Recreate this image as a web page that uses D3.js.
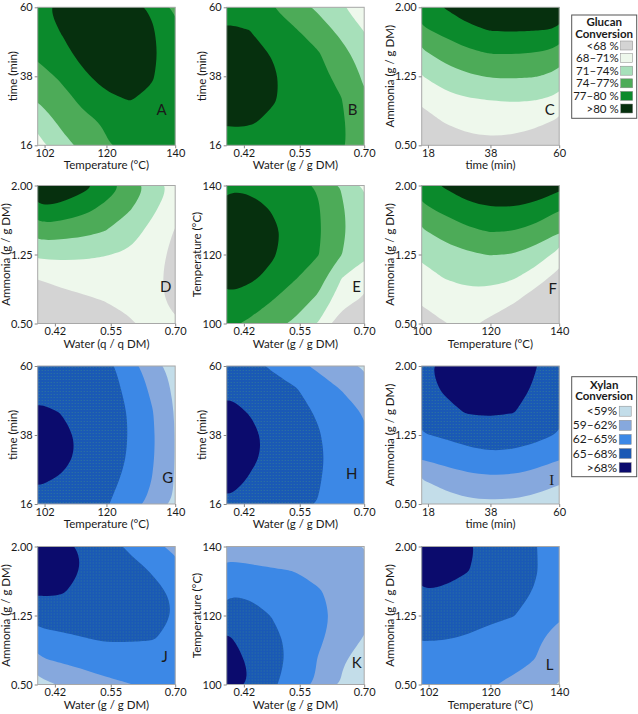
<!DOCTYPE html>
<html>
<head>
<meta charset="utf-8">
<script src="https://cdn.jsdelivr.net/npm/d3@7"></script>
<style>
  body { margin: 0; background: #fff; }
  svg text { font-family: Lato, "Open Sans", sans-serif; fill: #1a1a1a; }
</style>
</head>
<body>
<div id="chart"></div>
<script>
// contour levels and colours
var gluLevels = [68, 71, 74, 77, 80];
var gluColors = ["#d4d4d4", "#eef8ec", "#a7e0ba", "#4dab58", "#0b8a2c", "#06300e"];
var gluLabels = ["<68 %", "68\u201371%", "71\u201374%", "74\u201377%", "77\u201380 %", ">80 %"];
var xylLevels = [59, 62, 65, 68];
var xylColors = ["#c3dde9", "#86a8dd", "#3c88e6", "#1a59b5", "#0b0b6d"];
var xylLabels = ["<59%", "59\u201362%", "62\u201365%", "65\u201368%", ">68%"];

// tick values
var tempTicks102 = [102, 120, 140];
var tempTicks100 = [100, 120, 140];
var timeTicksX = [18, 38, 60];
var timeTicksY = [16, 38, 60];
var waterTicks = [0.42, 0.55, 0.70];
var ammoniaTicks = [0.50, 1.25, 2.00];

// response values, 7x7, top row first, left to right
var gridA = [
  79.3, 80.8, 81.8, 82.0, 81.2, 79.5, 76.5,
  78.5, 80.1, 81.5, 82.3, 82.0, 80.3, 77.5,
  77.6, 79.2, 80.8, 81.8, 81.8, 80.6, 78.0,
  75.9, 77.4, 79.6, 81.0, 81.3, 80.2, 78.1,
  74.1, 75.9, 77.7, 79.5, 80.1, 79.6, 78.0,
  71.6, 74.6, 76.3, 77.3, 78.6, 78.7, 77.8,
  70.2, 72.6, 75.0, 76.8, 77.8, 78.0, 77.4];
var gridB = [
  78.7, 78.2, 77.0, 75.5, 73.4, 71.2, 70.0,
  80.6, 80.0, 78.4, 77.2, 75.5, 73.2, 70.9,
  81.8, 81.0, 79.8, 78.2, 77.2, 75.0, 72.5,
  82.2, 81.5, 80.4, 78.8, 77.8, 76.2, 73.6,
  82.0, 81.4, 80.3, 78.9, 78.0, 77.1, 74.3,
  80.4, 80.3, 79.4, 78.5, 77.8, 77.4, 75.2,
  78.6, 78.5, 78.3, 78.0, 77.6, 77.3, 75.8];
var gridC = [
  78.9, 80.1, 81.9, 83.2, 83.2, 83.1, 83.2,
  76.5, 77.8, 79.2, 80.1, 80.2, 80.05, 79.7,
  73.4, 75.2, 76.4, 77.1, 77.1, 76.9, 76.1,
  70.9, 72.5, 73.6, 74.2, 74.3, 74.1, 73.2,
  68.7, 70.1, 70.8, 71.1, 71.3, 71.1, 70.4,
  66.5, 68.1, 68.9, 69.1, 69.1, 68.6, 67.5,
  64.3, 65.9, 67.0, 67.3, 67.0, 66.2, 64.7];
var gridD = [
  83.5, 82.9, 81.0, 78.7, 76.2, 73.3, 70.2,
  79.8, 79.1, 77.9, 76.2, 74.3, 71.6, 69.0,
  75.6, 75.2, 74.8, 73.9, 72.3, 70.1, 67.8,
  71.7, 71.7, 71.5, 71.1, 70.6, 69.2, 67.2,
  68.1, 68.9, 69.3, 69.6, 69.6, 68.8, 67.0,
  66.6, 66.9, 67.5, 68.1, 68.6, 68.8, 67.3,
  65.5, 65.2, 66.0, 66.8, 67.7, 69.0, 68.3];
var gridE = [
  79.6, 79.5, 78.8, 78.2, 76.7, 73.8, 70.6,
  81.2, 81.0, 79.8, 78.8, 77.2, 74.4, 71.7,
  82.0, 81.6, 80.5, 79.1, 77.4, 74.5, 72.2,
  82.0, 81.4, 80.3, 78.5, 77.1, 74.1, 71.6,
  81.2, 80.5, 79.3, 77.2, 75.4, 71.1, 69.3,
  79.5, 78.7, 77.0, 75.3, 73.4, 69.2, 67.5,
  77.6, 76.5, 74.8, 73.5, 70.8, 66.3, 65.8];
var gridF = [
  79.0, 80.3, 81.9, 82.6, 82.5, 82.0, 81.0,
  76.3, 77.8, 79.2, 79.8, 79.8, 79.1, 77.2,
  73.6, 75.1, 76.4, 77.1, 76.9, 76.0, 74.1,
  71.6, 72.8, 73.6, 74.1, 73.9, 72.7, 70.0,
  69.9, 71.1, 71.7, 71.9, 71.3, 69.4, 66.8,
  68.3, 69.4, 70.0, 69.6, 68.4, 66.2, 64.0,
  66.7, 67.9, 68.6, 67.3, 65.6, 63.1, 61.0];
var gridG = [
  66.6, 66.5, 66.2, 66.0, 63.3, 60.5, 57.7,
  67.5, 67.3, 66.8, 66.2, 64.3, 61.4, 58.4,
  68.4, 67.95, 67.3, 66.6, 64.8, 62.15, 58.8,
  69.2, 68.74, 67.5, 66.25, 64.9, 62.4, 58.9,
  69.16, 68.7, 67.5, 66.2, 64.8, 62.3, 58.9,
  68.23, 67.76, 67.1, 65.9, 64.3, 61.9, 58.8,
  67.3, 67.1, 66.5, 65.2, 63.4, 61.3, 58.6];
var gridH = [
  66.5, 66.0, 64.6, 62.9, 61.4, 60.0, 58.6,
  67.8, 67.2, 66.1, 65.2, 63.5, 61.9, 60.5,
  68.6, 67.9, 66.9, 65.9, 64.7, 63.3, 61.8,
  69.3, 68.6, 67.4, 66.3, 65.2, 63.6, 62.2,
  69.4, 68.4, 67.5, 66.4, 65.4, 63.9, 62.5,
  68.9, 67.8, 67.1, 66.1, 65.2, 63.7, 62.4,
  67.8, 67.2, 66.6, 65.7, 64.9, 63.5, 62.2];
var gridI = [
  67.6, 68.6, 69.4, 69.6, 69.2, 68.05, 66.8,
  67.1, 68.3, 69.1, 69.3, 68.9, 67.7, 66.4,
  66.2, 67.3, 68.2, 68.4, 68.1, 66.9, 65.6,
  64.8, 65.4, 66.1, 66.4, 66.3, 65.8, 64.8,
  62.2, 63.1, 63.9, 64.4, 64.2, 63.4, 62.2,
  58.8, 60.0, 60.9, 61.2, 61.1, 60.4, 59.4,
  56.5, 57.6, 58.3, 58.5, 58.4, 57.9, 57.0];
var gridJ = [
  69.3, 68.8, 67.7, 66.2, 64.6, 62.8, 61.2,
  69.1, 68.6, 67.95, 66.6, 65.8, 64.8, 63.2,
  68.4, 68.2, 67.4, 66.7, 66.2, 65.6, 64.7,
  66.3, 66.4, 66.5, 66.4, 66.2, 65.8, 64.9,
  64.0, 64.4, 64.9, 65.3, 65.2, 65.1, 64.6,
  61.4, 62.2, 62.8, 63.5, 63.9, 64.0, 63.7,
  58.2, 59.0, 60.4, 61.3, 61.9, 62.5, 62.6];
var gridK = [
  61.3, 61.0, 60.8, 60.6, 60.3, 59.8, 58.9,
  62.5, 62.3, 62.1, 61.9, 61.4, 60.7, 59.8,
  64.8, 64.6, 63.8, 63.3, 62.2, 61.3, 60.3,
  66.6, 66.1, 64.9, 64.2, 62.8, 61.2, 59.9,
  68.3, 67.3, 65.5, 64.4, 62.4, 60.9, 58.8,
  69.5, 67.7, 65.9, 64.2, 61.8, 59.3, 57.6,
  70.3, 67.9, 65.4, 63.7, 61.6, 58.8, 57.2];
var gridL = [
  69.3, 68.9, 68.3, 67.4, 66.4, 65.05, 63.8,
  68.8, 68.5, 68.1, 67.2, 66.3, 65.1, 63.8,
  67.95, 67.8, 67.4, 66.7, 65.9, 64.8, 63.4,
  66.6, 66.4, 66.0, 65.5, 65.1, 63.8, 62.3,
  65.2, 65.1, 64.8, 64.2, 63.4, 62.4, 61.0,
  63.8, 63.6, 63.3, 62.8, 62.6, 61.9, 60.6,
  62.5, 62.35, 62.25, 62.1, 61.6, 60.5, 58.8];

var vars = {
  temp: { domain: [100, 140], title: "Temperature (\u00B0C)", fmt: d3.format("d"), off: -26 },
  time: { domain: [16, 60], title: "time (min)", fmt: d3.format("d"), off: -20.5 },
  water: { domain: [0.38, 0.70], title: "Water (g / g DM)", fmt: d3.format(".2f"), off: -27.5 },
  ammonia: { domain: [0.50, 2.00], title: "Ammonia (g / g DM)", fmt: d3.format(".2f"), off: -27.5 }
};

var panels = [
  { id: "A", grid: gridA, set: "glu", c: 0, r: 0, x: "temp", xt: tempTicks102, y: "time", yt: timeTicksY, lx: 124, ly: 108 },
  { id: "B", grid: gridB, set: "glu", c: 1, r: 0, x: "water", xt: waterTicks, y: "time", yt: timeTicksY, lx: 126, ly: 108 },
  { id: "C", grid: gridC, set: "glu", c: 2, r: 0, x: "time", xt: timeTicksX, y: "ammonia", yt: ammoniaTicks, lx: 128, ly: 108 },
  { id: "D", grid: gridD, set: "glu", c: 0, r: 1, x: "water", xt: waterTicks, y: "ammonia", yt: ammoniaTicks, lx: 128, ly: 106, xTitle: "Water (q / q DM)" },
  { id: "E", grid: gridE, set: "glu", c: 1, r: 1, x: "water", xt: waterTicks, y: "temp", yt: tempTicks100, lx: 130, ly: 106 },
  { id: "F", grid: gridF, set: "glu", c: 2, r: 1, x: "temp", xt: tempTicks100, y: "ammonia", yt: ammoniaTicks, lx: 131, ly: 108 },
  { id: "G", grid: gridG, set: "xyl", c: 0, r: 2, x: "temp", xt: tempTicks102, y: "time", yt: timeTicksY, lx: 130, ly: 117 },
  { id: "H", grid: gridH, set: "xyl", c: 1, r: 2, x: "water", xt: waterTicks, y: "time", yt: timeTicksY, lx: 125, ly: 113 },
  { id: "I", grid: gridI, set: "xyl", c: 2, r: 2, x: "time", xt: timeTicksX, y: "ammonia", yt: ammoniaTicks, lx: 130, ly: 119, serif: true },
  { id: "J", grid: gridJ, set: "xyl", c: 0, r: 3, x: "water", xt: waterTicks, y: "ammonia", yt: ammoniaTicks, lx: 127, ly: 115 },
  { id: "K", grid: gridK, set: "xyl", c: 1, r: 3, x: "water", xt: waterTicks, y: "temp", yt: tempTicks100, lx: 130, ly: 121 },
  { id: "L", grid: gridL, set: "xyl", c: 2, r: 3, x: "temp", xt: tempTicks102, y: "ammonia", yt: ammoniaTicks, lx: 128, ly: 123 }
];

var pw = 137.5, ph = 138;
var colX = [37.7, 226.7, 421.7];
var rowY = [7.3, 185.5, 366, 546.5];
var n = 7;

var svg = d3.select("#chart").append("svg")
    .attr("width", 638)
    .attr("height", 714);

// speckled fill like the dithered 65-68 % band
var pat = svg.append("defs").append("pattern")
    .attr("id", "speck").attr("patternUnits", "userSpaceOnUse")
    .attr("width", 3).attr("height", 3);
pat.append("rect").attr("width", 3).attr("height", 3).attr("fill", xylColors[3]);
pat.append("rect").attr("x", 1).attr("y", 1).attr("width", 1).attr("height", 1)
    .attr("fill", "#3f8f86").attr("opacity", 0.55);

var sets = {
  glu: { levels: gluLevels, colors: gluColors },
  xyl: { levels: xylLevels, colors: xylColors.map(function(c, i) { return i === 3 ? "url(#speck)" : c; }) }
};

panels.forEach(function(p) {
    var s = sets[p.set];
    var g = svg.append("g")
        .attr("transform", "translate(" + colX[p.c] + "," + rowY[p.r] + ")");

    var xs = d3.scaleLinear().domain(vars[p.x].domain).range([0, pw]);
    var ys = d3.scaleLinear().domain(vars[p.y].domain).range([ph, 0]);
    // grid samples sit on the pixel centres of d3.contours
    var gx = d3.scaleLinear().domain([0.5, n - 0.5]).range([xs(vars[p.x].domain[0]), xs(vars[p.x].domain[1])]);
    var gy = d3.scaleLinear().domain([0.5, n - 0.5]).range([ys(vars[p.y].domain[1]), ys(vars[p.y].domain[0])]);

    var clipId = "clip" + p.id;
    g.append("clipPath").attr("id", clipId)
      .append("rect").attr("width", pw).attr("height", ph);

    var plot = g.append("g").attr("clip-path", "url(#" + clipId + ")");
    plot.append("rect").attr("width", pw).attr("height", ph).attr("fill", s.colors[0]);

    var contours = d3.contours().size([n, n]).thresholds(s.levels)(p.grid);
    var line = d3.line()
        .x(function(d) { return gx(d[0]); })
        .y(function(d) { return gy(d[1]); })
        .curve(d3.curveBasisClosed);

    plot.selectAll("path.band")
      .data(contours)
      .enter().append("path")
        .attr("class", "band")
        .attr("fill", function(d, i) { return s.colors[i + 1]; })
        .attr("d", function(d) {
            return d.coordinates.map(function(poly) {
                return poly.map(function(ring) { return line(ring.slice(0, -1)); }).join("");
            }).join("");
        });

    g.append("rect")
        .attr("width", pw).attr("height", ph)
        .attr("fill", "none").attr("stroke", "#a8a8a8").attr("stroke-width", 1);

    // axes
    var xa = g.append("g")
        .attr("transform", "translate(0," + ph + ")")
        .call(d3.axisBottom(xs).tickValues(p.xt).tickSize(3).tickPadding(1).tickFormat(vars[p.x].fmt));
    var ya = g.append("g")
        .call(d3.axisLeft(ys).tickValues(p.yt).tickSize(3).tickPadding(2).tickFormat(vars[p.y].fmt));
    [xa, ya].forEach(function(a) {
        a.select(".domain").remove();
        a.selectAll(".tick line").attr("stroke", "#888");
        a.selectAll("text").attr("font-size", 11).attr("fill", "#1a1a1a")
            .style("font-family", "Lato, 'Open Sans', sans-serif");
    });

    g.append("text")
        .attr("x", pw / 2)
        .attr("y", ph + 24)
        .attr("text-anchor", "middle")
        .attr("font-size", 11.5)
        .text(p.xTitle || vars[p.x].title);

    g.append("text")
        .attr("transform", "translate(" + vars[p.y].off + "," + (ph / 2) + ") rotate(-90)")
        .attr("text-anchor", "middle")
        .attr("font-size", 11.5)
        .text(vars[p.y].title);

    g.append("text")
        .attr("x", p.lx)
        .attr("y", p.ly)
        .attr("text-anchor", "middle")
        .attr("font-size", 15)
        .style("font-family", p.serif ? "'Liberation Serif', serif" : null)
        .text(p.id);
});

// legends
function legend(opt, labels, colors) {
    var g = svg.append("g").attr("transform", "translate(" + opt.x + "," + opt.y + ")");
    g.append("rect").attr("width", 65).attr("height", opt.h)
        .attr("fill", "#fff").attr("stroke", "#555").attr("stroke-width", 1);
    g.selectAll("text.title")
      .data(opt.title)
      .enter().append("text")
        .attr("class", "title")
        .attr("x", 32.5)
        .attr("y", function(d, i) { return opt.titleY + i * 11.5; })
        .attr("text-anchor", "middle")
        .attr("font-size", 11.5)
        .attr("font-weight", "bold")
        .text(function(d) { return d; });
    var rows = g.selectAll("g.item")
      .data(labels)
      .enter().append("g")
        .attr("class", "item")
        .attr("transform", function(d, i) { return "translate(0," + (opt.first + i * opt.step) + ")"; });
    rows.append("text")
        .attr("x", opt.labelX)
        .attr("y", 4)
        .attr("text-anchor", "end")
        .attr("font-size", opt.fs)
        .text(function(d) { return d; });
    rows.append("rect")
        .attr("x", opt.labelX + 2).attr("y", -opt.sh / 2)
        .attr("width", 12).attr("height", opt.sh)
        .attr("fill", function(d, i) { return colors[i]; })
        .attr("stroke", "#888").attr("stroke-width", 0.5);
}

legend({ x: 571.7, y: 15, h: 103.3, title: ["Glucan", "Conversion"], titleY: 11, first: 30.5, step: 12.6, labelX: 47, sh: 9, fs: 11.5 },
    gluLabels, gluColors);
legend({ x: 571.7, y: 376.7, h: 100, title: ["Xylan", "Conversion"], titleY: 12.3, first: 34.5, step: 14.1, labelX: 45.5, sh: 10, fs: 12 },
    xylLabels, xylColors);
</script>
</body>
</html>
